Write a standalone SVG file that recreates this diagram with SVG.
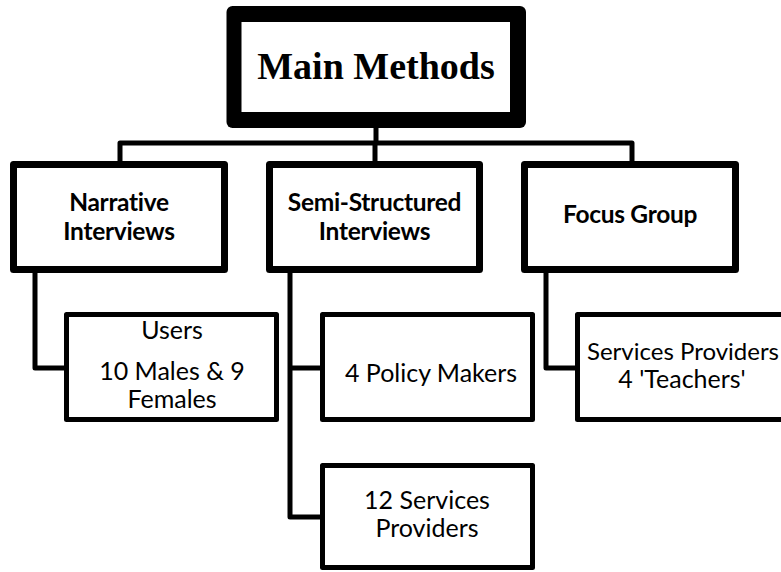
<svg xmlns="http://www.w3.org/2000/svg" width="781" height="572" viewBox="0 0 781 572">
<style>
.l2 { fill: #fff; stroke: #000; stroke-width: 7; stroke-linejoin: round; }
.l3 { fill: #fff; stroke: #000; stroke-width: 5; stroke-linejoin: round; }
.h { font-family: Lato, "Open Sans", sans-serif; font-weight: bold; font-size: 24.5px; text-anchor: middle; fill: #000; letter-spacing: -0.3px; }
.t { font-family: Lato, "Open Sans", sans-serif; font-size: 25px; text-anchor: middle; fill: #000; }
.main { font-family: "Liberation Serif", serif; font-weight: bold; font-size: 38px; text-anchor: middle; fill: #000; }
#connectors path { fill: none; stroke: #000; stroke-width: 5; stroke-linejoin: round; stroke-linecap: square; }
</style>
<rect width="781" height="572" fill="#fff"/>
<g id="connectors">
  <path d="M376 128 V143 M120 161 V143 H632 V161 M375 143 V161"/>
  <path d="M35 273 V368 H64"/>
  <path d="M290 273 V517 H320 M290 368 H320"/>
  <path d="M546 273 V368 H575"/>
</g>
<g id="main">
  <rect x="226.5" y="6" width="299.5" height="122" rx="6" fill="#000"/>
  <rect x="241.5" y="22" width="268.5" height="90" fill="#fff"/>
  <text class="main" x="376" y="79">Main Methods</text>
</g>
<g id="narrative">
  <rect class="l2" x="13.5" y="164.5" width="211" height="105"/>
  <text class="h" x="119" y="211">Narrative</text>
  <text class="h" x="119" y="240">Interviews</text>
</g>
<g id="semi">
  <rect class="l2" x="269.5" y="164.5" width="210" height="105"/>
  <text class="h" x="374.5" y="211">Semi-Structured</text>
  <text class="h" x="374.5" y="240">Interviews</text>
</g>
<g id="focus">
  <rect class="l2" x="524.5" y="164.5" width="211" height="105"/>
  <text class="h" x="630" y="223">Focus Group</text>
</g>
<g id="users">
  <rect class="l3" x="66.5" y="314.5" width="210" height="105"/>
  <text class="t" x="172" y="339">Users</text>
  <text class="t" x="172" y="380">10 Males &amp; 9</text>
  <text class="t" x="172" y="408">Females</text>
</g>
<g id="policy">
  <rect class="l3" x="322.5" y="314.5" width="210" height="105"/>
  <text class="t" x="431" y="382">4 Policy Makers</text>
</g>
<g id="services12">
  <rect class="l3" x="322.5" y="465.5" width="210" height="102"/>
  <text class="t" x="427" y="509">12 Services</text>
  <text class="t" x="427" y="537">Providers</text>
</g>
<g id="teachers">
  <rect class="l3" x="577.5" y="314.5" width="211" height="105"/>
  <text class="t" x="683" y="360" style="font-size:24px" textLength="192" lengthAdjust="spacingAndGlyphs">Services Providers</text>
  <text class="t" x="682" y="388">4 'Teachers'</text>
</g>
</svg>
